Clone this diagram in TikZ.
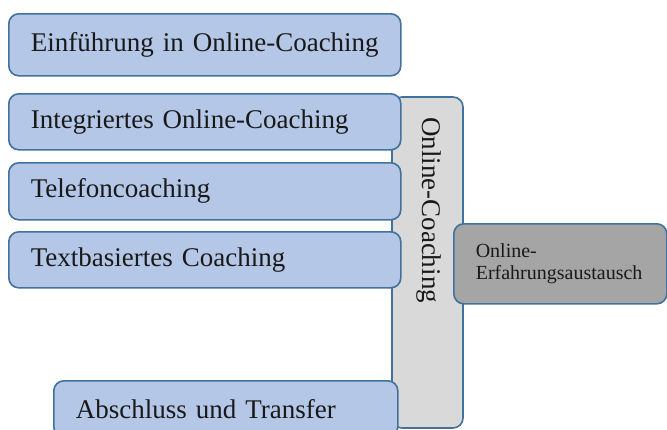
\documentclass[tikz,border=0pt]{standalone}
\usepackage{fontspec}
\setmainfont{Liberation Serif}

\definecolor{boxblue}{HTML}{B4C7E7}
\definecolor{boxline}{HTML}{41719C}
\definecolor{panelgray}{HTML}{D9D9D9}
\definecolor{darkgray}{HTML}{A5A5A5}

\tikzset{
    phase/.style={draw=boxline, fill=boxblue, line width=1.2pt,
        rounded corners=7.5pt, anchor=north west,
        inner xsep=16.5pt, inner ysep=0pt,
        text width=261pt, minimum height=42pt, align=left,
        text=black!90, font=\fontsize{20.25}{24}\selectfont},
    panel/.style={draw=boxline, fill=panelgray, line width=1.2pt,
        rounded corners=7.5pt},
    exchange/.style={draw=boxline, fill=darkgray, line width=1.2pt,
        rounded corners=7.5pt, anchor=north west,
        inner xsep=16.5pt, inner ysep=0pt,
        text width=126.75pt, minimum height=60pt, align=left,
        text=black!90, font=\fontsize{15}{17}\selectfont}
}

\begin{document}
\begin{tikzpicture}[x=0.75pt,y=-0.75pt]

    % --- Frame: 667 x 429 px ---
    \useasboundingbox (0,0) rectangle (667,429);
    \clip (0,0) rectangle (667,429);

    % --- Online-Coaching panel (behind the phases) ---
    \draw[panel] (392,97) rectangle (463,428);
    \node[rotate=-90, font=\fontsize{20.25}{24}\selectfont, text=black!90]
        (online) at (429,210) {Online-Coaching};

    % --- Phases ---
    \node[phase, minimum height=46.5pt] (einf) at (8,13) {Einführung in Online-Coaching};
    \node[phase] (integ) at (8,93)  {Integriertes Online-Coaching};
    \node[phase, minimum height=42.75pt] (telefon) at (8,162) {Telefoncoaching};
    \node[phase] (text) at (8,231) {Textbasiertes Coaching};
    \node[phase, text width=225pt] (abschluss) at (53,380) {Abschluss und Transfer};

    % --- Exchange box on the right ---
    \node[exchange] (austausch) at (453,223) {Online-\\Erfahrungsaustausch};

\end{tikzpicture}
\end{document}
